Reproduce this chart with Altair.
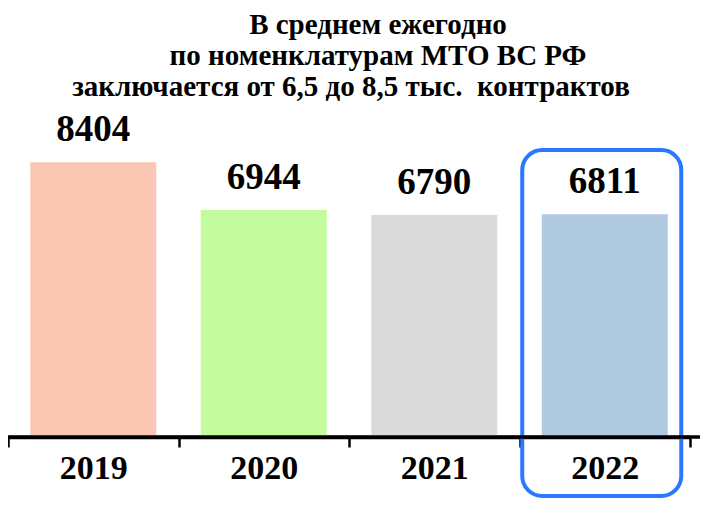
import altair as alt
import pandas as pd

years = ["2019", "2020", "2021", "2022"]
values = [8404, 6944, 6790, 6811]
colors = ["#FAC7B2", "#C4FB9F", "#DADADA", "#AFCAE0"]
title_lines = [
    "В среднем ежегодно",
    "по номенклатурам МТО ВС РФ",
    "заключается от 6,5 до 8,5 тыс.\u00a0 контрактов",
]
highlight = "2022"

FONT = "Liberation Serif"

df = pd.DataFrame({"year": years, "value": values})

x = alt.X(
    "year:N",
    sort=years,
    scale=alt.Scale(paddingInner=0, paddingOuter=0),
    axis=alt.Axis(
        title=None,
        labelAngle=0,
        labelFont=FONT,
        labelFontSize=34,
        labelFontWeight="bold",
        labelColor="black",
        labelPadding=4,
        labelBaseline="top",
        tickBand="extent",
        tickSize=10,
        tickWidth=2.5,
        tickColor="black",
        domainColor="black",
        domainWidth=3.5,
        grid=False,
    ),
)
y = alt.Y("value:Q", scale=alt.Scale(domain=[0, 10000]), axis=None)

base = alt.Chart(df)

bars = base.mark_bar(size=126).encode(
    x=x,
    y=y,
    color=alt.Color("year:N", scale=alt.Scale(domain=years, range=colors), legend=None),
)

labels = base.mark_text(
    font=FONT, fontSize=37, fontWeight="bold", color="black",
    baseline="alphabetic", dy=-21,
).encode(x=x, y=y, text=alt.Text("value:Q", format="d"))

box = base.transform_filter(alt.datum.year == highlight).mark_bar(
    size=159, fillOpacity=0, stroke="#2979FF", strokeWidth=4, cornerRadius=20,
    xOffset=-3,
).encode(x=x, y=alt.value(40), y2=alt.value(386))

ext = alt.Chart(pd.DataFrame({"a": [0]})).mark_rule(
    color="black", strokeWidth=3.5
).encode(x=alt.value(-3), x2=alt.value(697), y=alt.value(327))

title_pos = [(370, -76), (370, -45), (343, -14)]
title_layers = []
for line, (tx, ty) in zip(title_lines, title_pos):
    title_layers.append(
        alt.Chart(pd.DataFrame({"t": [line]})).mark_text(
            font=FONT, fontSize=29, fontWeight="bold", color="black",
            align="center", baseline="alphabetic",
        ).encode(x=alt.value(tx), y=alt.value(ty), text="t:N")
    )

chart = alt.layer(bars, labels, box, ext, *title_layers).properties(
    width=682,
    height=327,
    autosize=alt.AutoSizeParams(type="none"),
    padding={"left": 0, "top": 102, "right": 10, "bottom": 70},
).configure_view(stroke=None)

chart.save("out.html", embed_options={"renderer": "svg", "actions": False})
